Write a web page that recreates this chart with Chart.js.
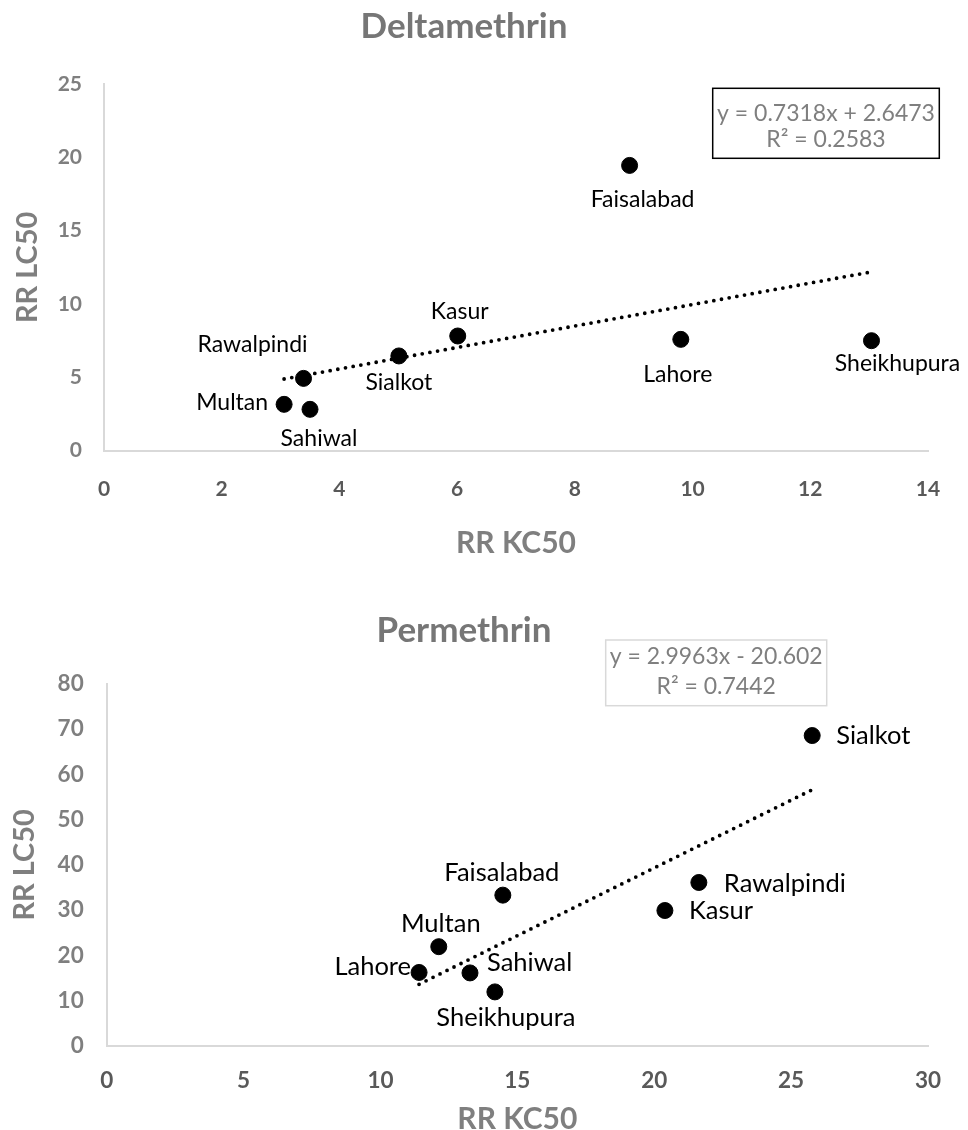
<!DOCTYPE html>
<html>
<head>
<meta charset="utf-8">
<script src="https://cdn.jsdelivr.net/npm/chart.js@4.4.1/dist/chart.umd.min.js"></script>
<style>
  html, body { margin: 0; padding: 0; background: #fff; overflow: hidden; }
  #page { position: relative; width: 968px; height: 1130px; overflow: hidden; }
  .panel { position: absolute; left: 0; width: 968px; }
</style>
</head>
<body>
<div id="page">
  <div class="panel" style="top:0;height:565px"><canvas id="deltaChart" width="968" height="565"></canvas></div>
  <div class="panel" style="top:565px;height:580px"><canvas id="permChart" width="968" height="580"></canvas></div>
</div>
<script>
// Deltamethrin data
const deltaCities = ['Multan', 'Rawalpindi', 'Sahiwal', 'Sialkot', 'Kasur', 'Faisalabad', 'Lahore', 'Sheikhupura'];
const deltaKC50 = [3.06, 3.39, 3.50, 5.01, 6.01, 8.93, 9.80, 13.04];
const deltaLC50 = [3.16, 4.93, 2.82, 6.46, 7.82, 19.45, 7.59, 7.50];
const deltaXTicks = [0, 2, 4, 6, 8, 10, 12, 14];
const deltaYTicks = [0, 5, 10, 15, 20, 25];
const deltaSlope = 0.7318;
const deltaIntercept = 2.6473;
const deltaEquation = ['y = 0.7318x + 2.6473', 'R\u00b2 = 0.2583'];

// Permethrin data
const permCities = ['Lahore', 'Multan', 'Sahiwal', 'Sheikhupura', 'Faisalabad', 'Kasur', 'Rawalpindi', 'Sialkot'];
const permKC50 = [11.41, 12.13, 13.27, 14.18, 14.47, 20.39, 21.63, 25.77];
const permLC50 = [16.2, 21.9, 16.1, 11.9, 33.3, 29.9, 36.1, 68.6];
const permXTicks = [0, 5, 10, 15, 20, 25, 30];
const permYTicks = [0, 10, 20, 30, 40, 50, 60, 70, 80];
const permSlope = 2.9963;
const permIntercept = -20.602;
const permEquation = ['y = 2.9963x - 20.602', 'R\u00b2 = 0.7442'];

// where each city label sits relative to its marker
const deltaLabelPos = {
    Multan: { align: 'right', dx: -16, dy: -2 },
    Rawalpindi: { align: 'center', dx: -51, dy: -34 },
    Sahiwal: { align: 'center', dx: 9, dy: 29 },
    Sialkot: { align: 'center', dx: 0, dy: 27 },
    Kasur: { align: 'center', dx: 2, dy: -24 },
    Faisalabad: { align: 'center', dx: 13, dy: 34 },
    Lahore: { align: 'center', dx: -3, dy: 35 },
    Sheikhupura: { align: 'center', dx: 26, dy: 23 }
};
const permLabelPos = {
    Lahore: { align: 'right', dx: -8, dy: -6 },
    Multan: { align: 'center', dx: 2, dy: -23 },
    Sahiwal: { align: 'left', dx: 17, dy: -10 },
    Sheikhupura: { align: 'center', dx: 11, dy: 26 },
    Faisalabad: { align: 'center', dx: -1, dy: -22 },
    Kasur: { align: 'left', dx: 24, dy: 0 },
    Rawalpindi: { align: 'left', dx: 25, dy: 1 },
    Sialkot: { align: 'left', dx: 24, dy: 0 }
};

const FONT = 'Lato, "Open Sans", sans-serif';

function makeChart(canvasId, s) {
    const ctx = document.getElementById(canvasId).getContext('2d');

    const points = s.xs.map((x, i) => ({ x: x, y: s.ys[i] }));
    const xMin = Math.min(...s.xs);
    const xMax = Math.max(...s.xs);
    const trend = [
        { x: xMin, y: s.slope * xMin + s.intercept },
        { x: xMax, y: s.slope * xMax + s.intercept }
    ];

    // city names next to the markers
    const pointLabels = {
        id: 'pointLabels',
        afterDatasetsDraw(chart) {
            const c = chart.ctx;
            const meta = chart.getDatasetMeta(0);
            c.save();
            c.font = s.labelSize + 'px ' + FONT;
            c.fillStyle = '#000';
            c.textBaseline = 'middle';
            meta.data.forEach((el, i) => {
                const name = s.names[i];
                const p = s.labelPos[name];
                c.textAlign = p.align;
                c.fillText(name, el.x + p.dx, el.y + p.dy);
            });
            c.restore();
        }
    };

    // trendline equation box
    const equationBox = {
        id: 'equationBox',
        afterDraw(chart) {
            const c = chart.ctx;
            const b = s.eqBox;
            c.save();
            c.fillStyle = '#fff';
            c.fillRect(b.left, b.top, b.right - b.left, b.bottom - b.top);
            c.strokeStyle = b.border;
            c.lineWidth = b.lineWidth;
            c.strokeRect(b.left, b.top, b.right - b.left, b.bottom - b.top);
            c.font = s.eqSize + 'px ' + FONT;
            c.fillStyle = '#7f7f7f';
            c.textAlign = 'center';
            c.textBaseline = 'middle';
            const cx = (b.left + b.right) / 2;
            c.fillText(s.equation[0], cx, b.line1);
            c.fillText(s.equation[1], cx, b.line2);
            c.restore();
        }
    };

    return new Chart(ctx, {
        type: 'scatter',
        data: {
            datasets: [{
                data: points,
                backgroundColor: '#000',
                borderColor: '#000',
                pointRadius: 8,
                pointHoverRadius: 8,
                order: 1
            }, {
                data: trend,
                showLine: true,
                pointRadius: 0,
                borderColor: '#000',
                borderWidth: 3.8,
                borderDash: [0, 7.8],
                borderCapStyle: 'round',
                order: 2
            }]
        },
        options: {
            responsive: false,
            animation: false,
            events: [],
            layout: { padding: { left: 0, right: 40, top: 0, bottom: 0 } },
            plugins: {
                legend: { display: false },
                tooltip: { enabled: false },
                title: {
                    display: true,
                    text: s.title,
                    color: '#767676',
                    font: { family: FONT, size: 35, weight: 'bold' },
                    padding: { top: s.titleTop, bottom: s.titleBottom }
                }
            },
            scales: {
                x: {
                    type: 'linear',
                    min: s.xTicks[0],
                    max: s.xTicks[s.xTicks.length - 1],
                    afterFit(scale) { scale.height = s.xScaleHeight; },
                    ticks: {
                        stepSize: s.xTicks[1] - s.xTicks[0],
                        color: '#595959',
                        padding: s.xTickPad,
                        font: { family: FONT, size: s.tickSize, weight: 'bold' }
                    },
                    grid: { display: false, drawTicks: false },
                    border: { display: true, color: '#d9d9d9', width: 2 },
                    title: {
                        display: true,
                        text: 'RR KC50',
                        color: '#7f7f7f',
                        font: { family: FONT, size: 30, weight: 'bold' },
                        padding: { top: 0, bottom: s.xTitlePad }
                    }
                },
                y: {
                    type: 'linear',
                    min: s.yTicks[0],
                    max: s.yTicks[s.yTicks.length - 1],
                    afterFit(scale) { scale.width = s.yScaleWidth; },
                    ticks: {
                        stepSize: s.yTicks[1] - s.yTicks[0],
                        color: '#7f7f7f',
                        padding: s.yTickPad,
                        font: { family: FONT, size: s.tickSize, weight: 'bold' }
                    },
                    grid: { display: false, drawTicks: false },
                    border: { display: true, color: '#d9d9d9', width: 2 },
                    title: {
                        display: true,
                        text: 'RR LC50',
                        color: '#7f7f7f',
                        font: { family: FONT, size: 29, weight: 'bold' },
                        padding: { top: s.yTitlePad, bottom: 0 }
                    }
                }
            }
        },
        plugins: [pointLabels, equationBox]
    });
}

makeChart('deltaChart', {
    title: 'Deltamethrin',
    names: deltaCities, xs: deltaKC50, ys: deltaLC50,
    slope: deltaSlope, intercept: deltaIntercept, equation: deltaEquation,
    xTicks: deltaXTicks, yTicks: deltaYTicks,
    labelPos: deltaLabelPos, labelSize: 23, eqSize: 23, tickSize: 21,
    titleTop: 6, titleBottom: 36,
    xScaleHeight: 114.3, xTickPad: 26, xTitlePad: 4,
    yScaleWidth: 104, yTickPad: 22, yTitlePad: 10,
    eqBox: { left: 712.7, top: 88.3, right: 939.3, bottom: 158.3, line1: 114, line2: 140, border: '#000', lineWidth: 1.5 }
});

makeChart('permChart', {
    title: 'Permethrin',
    names: permCities, xs: permKC50, ys: permLC50,
    slope: permSlope, intercept: permIntercept, equation: permEquation,
    xTicks: permXTicks, yTicks: permYTicks,
    labelPos: permLabelPos, labelSize: 25.5, eqSize: 23, tickSize: 22.5,
    titleTop: 45, titleBottom: 32,
    xScaleHeight: 99.3, xTickPad: 22, xTitlePad: 8,
    yScaleWidth: 106.7, yTickPad: 23, yTitlePad: 7.4,
    eqBox: { left: 605.7, top: 75, right: 826.7, bottom: 140.7, line1: 91.7, line2: 121.7, border: '#d9d9d9', lineWidth: 1.5 }
});
</script>
</body>
</html>
